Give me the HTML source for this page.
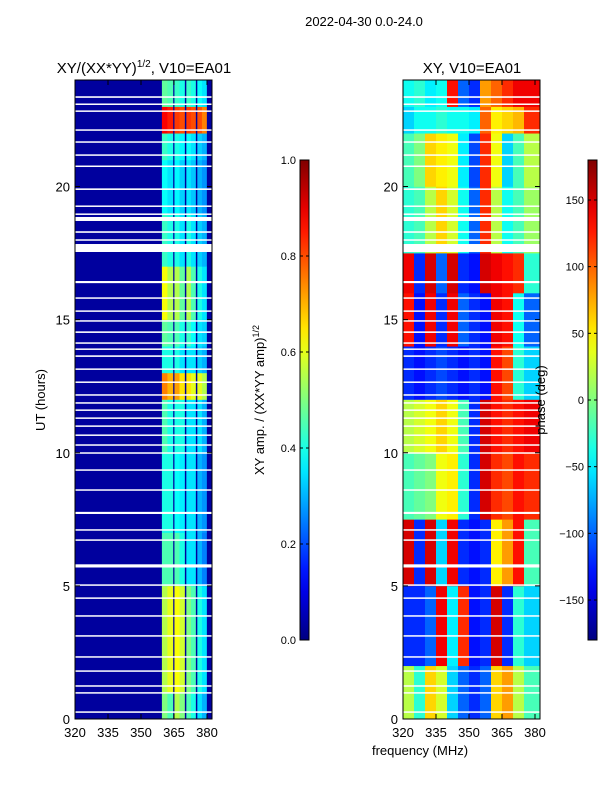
<!DOCTYPE html>
<html><head><meta charset="utf-8">
<style>
body{margin:0;background:#fff;}
svg{display:block;font-family:"Liberation Sans",sans-serif;}
</style></head>
<body>
<svg id="fig" width="600" height="800" xmlns="http://www.w3.org/2000/svg">
<text x="364" y="26" font-size="13" text-anchor="middle">2022-04-30 0.0-24.0</text>
<text x="144" y="73" font-size="15" text-anchor="middle">XY/(XX*YY)<tspan font-size="10" dy="-6">1/2</tspan><tspan dy="6">, V10=EA01</tspan></text>
<text x="472" y="73" font-size="15" text-anchor="middle">XY, V10=EA01</text>
<text transform="translate(45,400) rotate(-90)" font-size="13" text-anchor="middle">UT (hours)</text>
<text x="420" y="755" font-size="13" text-anchor="middle">frequency (MHz)</text>
<text transform="translate(264,400) rotate(-90)" font-size="13" text-anchor="middle">XY amp. / (XX*YY amp)<tspan font-size="9" dy="-5">1/2</tspan></text>
<g id="left"></g>
<g id="right"></g>
<g id="cb"></g>
<text transform="translate(545,400) rotate(-90)" font-size="13" text-anchor="middle">phase (deg)</text>
</svg>
<script>
const ampFreqEdges=[359.5,362,364.5,365.2,367.5,369.8,370.6,372.7,374.8,375.6,377.7,379.8];
const ampHourEdges=[0,1,5,7,10,12,13,14,15,17,19,21,22,23,24];
const ampValues=[
[0.5,0.45,0.55,0.5,0.45,0.4,0.35,0.3],
[0.55,0.6,0.62,0.58,0.5,0.45,0.4,0.35],
[0.45,0.45,0.45,0.4,0.35,0.35,0.3,0.25],
[0.4,0.4,0.38,0.36,0.35,0.35,0.3,0.27],
[0.45,0.4,0.4,0.4,0.35,0.35,0.35,0.3],
[0.75,0.7,0.72,0.65,0.65,0.6,0.6,0.55],
[0.4,0.4,0.4,0.35,0.35,0.35,0.33,0.3],
[0.47,0.45,0.45,0.4,0.43,0.38,0.35,0.33],
[0.62,0.55,0.55,0.47,0.55,0.45,0.4,0.35],
[0.43,0.4,0.4,0.35,0.4,0.35,0.33,0.3],
[0.38,0.35,0.37,0.33,0.35,0.32,0.3,0.27],
[0.43,0.4,0.4,0.37,0.38,0.35,0.33,0.3],
[0.88,0.85,0.82,0.8,0.82,0.8,0.8,0.75],
[0.47,0.45,0.43,0.4,0.43,0.4,0.38,0.35]];
const ampBackground=0.03;
const phaseFreqEdges=[320,325,330,335,340,345,350,355,360,365,370,375,382.3];
const phaseHourEdges=[0,2,5,7.5,10,12,14,16,17.5,20,22,23,24];
const phaseValues=[
[20,-30,60,30,-60,-100,-120,-100,60,80,20,-20],
[-120,-120,-100,140,-50,120,-130,-120,150,-120,-30,-60],
[150,-120,150,-60,140,-120,-130,-120,50,80,130,-20],
[-20,-10,0,40,50,-30,-120,150,120,110,130,120],
[20,30,40,60,40,-20,-120,150,130,120,130,140],
[-120,-130,-120,-110,-120,-130,-120,-130,130,110,-30,-60],
[130,-130,140,-120,140,-100,-120,-130,140,130,-40,-100],
[140,-120,150,-100,150,-120,-130,150,140,130,120,-30],
[-30,-20,20,60,30,-40,-100,120,20,-40,-20,10],
[-20,0,60,50,40,-50,-110,120,40,-60,-20,20],
[-60,-40,-40,-30,-40,-40,-50,100,50,60,70,120],
[-40,-30,-50,-40,130,-100,-120,80,100,120,140,140]];
const flagHours=[23.36,23.09,22.83,22.12,21.67,21.18,20.76,19.9,19.26,18.96,18.78,18.29,17.99,17.69,16.41,15.81,15.32,14.95,14.53,14.12,13.89,13.63,13.14,12.65,12.17,11.87,11.6,11.3,11.0,10.66,10.29,9.99,9.35,8.6,7.74,7.1,6.72,5.75,5.03,4.54,3.87,3.12,2.33,1.8,1.24,0.98,0.26];
const flagDurations=[0.06,0.04,0.04,0.04,0.04,0.04,0.04,0.06,0.04,0.04,0.15,0.06,0.04,0.3,0.08,0.04,0.04,0.04,0.06,0.04,0.04,0.06,0.04,0.04,0.04,0.04,0.04,0.04,0.04,0.04,0.04,0.04,0.04,0.04,0.08,0.04,0.04,0.12,0.04,0.04,0.04,0.04,0.04,0.04,0.04,0.04,0.04];
const xTicks=[320,335,350,365,380];
const yTicks=[0,5,10,15,20];
const ampTicks=[0,0.2,0.4,0.6,0.8,1.0];
const phaseTicks=[-150,-100,-50,0,50,100,150];

const NS="http://www.w3.org/2000/svg";
function jet(v){v=Math.max(0,Math.min(1,v));
 const r=Math.max(0,Math.min(1,1.5-Math.abs(4*v-3))),g=Math.max(0,Math.min(1,1.5-Math.abs(4*v-2))),b=Math.max(0,Math.min(1,1.5-Math.abs(4*v-1)));
 return `rgb(${Math.round(r*255)},${Math.round(g*255)},${Math.round(b*255)})`;}
function mk(tag,attrs,parent){const e=document.createElementNS(NS,tag);for(const k in attrs)e.setAttribute(k,attrs[k]);parent.appendChild(e);return e;}
const Y0=719,Y1=80;
function yS(h){return Y0-(h/24)*(Y0-Y1);}
function xL(f){return 75+(f-320)*2.2;}
function xR(f){return 403+(f-320)*2.2;}
const L=document.getElementById('left'),R=document.getElementById('right'),CB=document.getElementById('cb');
let bg=mk('rect',{x:75,y:80,width:137,height:639,fill:jet(ampBackground)},L);


const bandStarts=[0,3,6,9];
for(let r=0;r<ampValues.length;r++){
 for(let b=0;b<4;b++){for(let k=0;k<2;k++){
  const f0=ampFreqEdges[bandStarts[b]+k],f1=ampFreqEdges[bandStarts[b]+k+1];
  const c=mk('rect',{x:xL(f0),y:yS(ampHourEdges[r+1]),width:xL(f1)-xL(f0)+0.3,height:yS(ampHourEdges[r])-yS(ampHourEdges[r+1])+0.3,fill:jet(ampValues[r][b*2+k])},L);
  
  
 }}
}
for(let r=0;r<phaseValues.length;r++){
 for(let j=0;j<phaseValues[r].length;j++){
  const c=mk('rect',{x:xR(phaseFreqEdges[j]),y:yS(phaseHourEdges[r+1]),width:xR(phaseFreqEdges[j+1])-xR(phaseFreqEdges[j])+0.3,height:yS(phaseHourEdges[r])-yS(phaseHourEdges[r+1])+0.3,fill:jet((phaseValues[r][j]+180)/360)},R);
  
  
 }
}
for(const [g,xf] of [[L,xL],[R,xR]]){
 for(let i=0;i<flagHours.length;i++){
  const h=Math.max(1.5,(flagDurations[i]/24)*639);
  const w=mk('rect',{x:xf(320),y:yS(flagHours[i])-h/2,width:137,height:h,fill:'#fff'},g);
  
  
 }
}
for(const [g,xf,x0] of [[L,xL,75],[R,xR,403]]){
 const fr=mk('rect',{x:x0,y:80,width:137,height:639,fill:'none',stroke:'#000','stroke-width':1},g);
 
 
 for(const t of xTicks){
  mk('line',{x1:xf(t),x2:xf(t),y1:719,y2:714,stroke:'#000'},g);
  mk('line',{x1:xf(t),x2:xf(t),y1:80,y2:85,stroke:'#000'},g);
  const tx=mk('text',{x:xf(t),y:737,'font-size':13,'text-anchor':'middle'},g);tx.textContent=t;
  
  
 }
 for(const t of yTicks){
  mk('line',{x1:x0,x2:x0+5,y1:yS(t),y2:yS(t),stroke:'#000'},g);
  mk('line',{x1:x0+137,x2:x0+132,y1:yS(t),y2:yS(t),stroke:'#000'},g);
  const tx=mk('text',{x:x0-5,y:yS(t)+5,'font-size':13,'text-anchor':'end'},g);tx.textContent=t;
  
  
 }
}
const defs=mk('defs',{},CB);
const grad=mk('linearGradient',{id:'jetg',x1:0,y1:1,x2:0,y2:0},defs);
for(let i=0;i<=20;i++)mk('stop',{offset:i/20,'stop-color':jet(i/20)},grad);
function cbar(x,ticks,lo,hi,fmt,name){
 const b=mk('rect',{x:x,y:160,width:9,height:480,fill:'url(#jetg)',stroke:'#000','stroke-width':1},CB);
 
 
 for(const t of ticks){
  const y=640-(t-lo)/(hi-lo)*480;
  mk('line',{x1:x,x2:x+3,y1:y,y2:y,stroke:'#000'},CB);
  mk('line',{x1:x+9,x2:x+6,y1:y,y2:y,stroke:'#000'},CB);
  const tx=mk('text',{x:x-4,y:y+4,'font-size':11,'text-anchor':'end'},CB);tx.textContent=fmt(t);
  
  
 }
}
cbar(300,ampTicks,0,1,t=>t.toFixed(1),'amp-colorbar');
cbar(588,phaseTicks,-180,180,t=>t<0?'\u2212'+(-t):''+t,'phase-colorbar');
</script>
</body></html>
